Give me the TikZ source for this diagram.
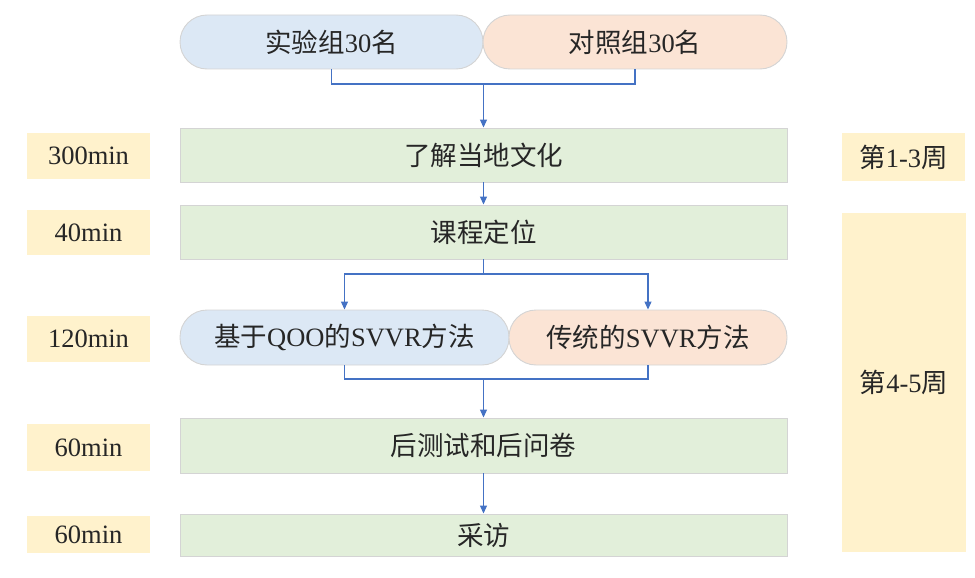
\documentclass[tikz,border=0pt]{standalone}
\usepackage{fontspec}
\setmainfont{Liberation Serif}
\newfontfamily\cjk{Noto Sans CJK SC}
\usetikzlibrary{arrows.meta}
\newcommand\zh[1]{{\cjk #1}}
\definecolor{pillblue}{HTML}{DCE8F5}
\definecolor{pillorange}{HTML}{FBE4D5}
\definecolor{boxgreen}{HTML}{E2EFDA}
\definecolor{labelyellow}{HTML}{FFF2CC}
\definecolor{boxgray}{HTML}{D4D4D4}
\definecolor{linkblue}{HTML}{4472C4}
\begin{document}
\begin{tikzpicture}[x=1pt,y=-1pt,
  base/.style={draw=boxgray, line width=0.9pt, inner sep=0pt, text=black!85, font=\fontsize{26.5}{30}\selectfont},
  pill/.style={base, rounded corners=27pt},
  stepbox/.style={base, fill=boxgreen, minimum width=607pt},
  tag/.style={inner sep=0pt, fill=labelyellow, text=black!85, font=\fontsize{26.5}{30}\selectfont},
  link/.style={draw=linkblue, line width=1.1pt},
  arrowlink/.style={link, -{Triangle[length=8pt,width=7pt]}}
]
\useasboundingbox (0,0) rectangle (975,578);
% top pills
\node[pill, fill=pillblue, minimum width=303pt, minimum height=54pt] (pa) at (331.5,42) {\zh{实验组}30\zh{名}};
\node[pill, fill=pillorange, minimum width=304pt, minimum height=54pt] (pb) at (635,42) {\zh{对照组}30\zh{名}};
% steps
\node[stepbox, minimum height=54pt] (b1) at (483.5,155) {\zh{了解当地文化}};
\node[stepbox, minimum height=54pt] (b2) at (483.5,232) {\zh{课程定位}};
\node[pill, fill=pillblue, minimum width=329pt, minimum height=55pt] (pc) at (344.5,337.5) {\zh{基于}QOO\zh{的}SVVR\zh{方法}};
\node[pill, fill=pillorange, minimum width=278pt, minimum height=55pt] (pd) at (648,337.5) {\zh{传统的}SVVR\zh{方法}};
\node[stepbox, minimum height=55pt] (b3) at (483.5,445.5) {\zh{后测试和后问卷}};
\node[stepbox, minimum height=42pt] (b4) at (483.5,535) {\zh{采访}};
% left time tags
\node[tag, minimum width=123pt, minimum height=46pt] (t1) at (88.5,156) {300min};
\node[tag, minimum width=123pt, minimum height=45pt] (t2) at (88.5,232.5) {40min};
\node[tag, minimum width=123pt, minimum height=46pt] (t3) at (88.5,339) {120min};
\node[tag, minimum width=123pt, minimum height=47pt] (t4) at (88.5,447.5) {60min};
\node[tag, minimum width=123pt, minimum height=37pt] (t5) at (88.5,534.5) {60min};
% right week tags
\node[tag, minimum width=123pt, minimum height=48pt] (w1) at (903.5,157) {\zh{第}1-3\zh{周}};
\node[tag, minimum width=124pt, minimum height=339pt] (w2) at (904,382.5) {\zh{第}4-5\zh{周}};
% connectors
\coordinate (j1) at (483.5,84);
\coordinate (j2) at (483.5,274);
\coordinate (j3) at (483.5,379);
\draw[link] (pa.south) |- (j1) -| (pb.south);
\draw[arrowlink] (j1) -- (b1.north);
\draw[arrowlink] (b1.south) -- (b2.north);
\draw[link] (b2.south) -- (j2);
\draw[arrowlink] (j2) -| (pc.north);
\draw[arrowlink] (j2) -| (pd.north);
\draw[link] (pc.south) |- (j3) -| (pd.south);
\draw[arrowlink] (j3) -- (b3.north);
\draw[arrowlink] (b3.south) -- (b4.north);
\end{tikzpicture}
\end{document}
